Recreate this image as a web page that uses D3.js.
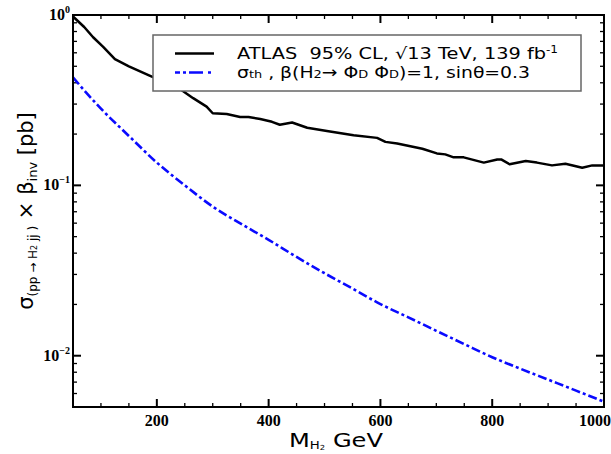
<!DOCTYPE html>
<html>
<head>
<meta charset="utf-8">
<script src="https://cdn.jsdelivr.net/npm/d3@7"></script>
<style>
  body { margin: 0; background: #fff; }
  svg { display: block; }
</style>
</head>
<body>
<svg id="chart"></svg>
<script>
// ATLAS 95% CL limit (black, solid)
const atlasMass = [50, 70, 86, 104, 125, 150, 191, 220, 242, 265, 289, 300, 325, 349, 364, 385, 406, 420, 442, 469, 507, 552, 594, 609, 630, 675, 701, 716, 731, 749, 785, 809, 816, 831, 860, 880, 907, 931, 961, 979, 1000];
const atlasXs   = [0.98, 0.85, 0.74, 0.65, 0.55, 0.50, 0.435, 0.40, 0.367, 0.325, 0.29, 0.265, 0.262, 0.252, 0.252, 0.245, 0.236, 0.227, 0.234, 0.218, 0.208, 0.197, 0.19, 0.18, 0.176, 0.164, 0.154, 0.152, 0.146, 0.146, 0.136, 0.142, 0.142, 0.133, 0.139, 0.136, 0.131, 0.134, 0.127, 0.131, 0.131];

// theory cross section (blue, dash-dot)
const thMass = [50, 100, 150, 200, 250, 300, 350, 400, 450, 500, 550, 600, 650, 700, 750, 800, 850, 900, 950, 1000];
const thXs   = [0.43, 0.282, 0.195, 0.136, 0.1, 0.075, 0.0596, 0.0479, 0.038, 0.0305, 0.0248, 0.0201, 0.0168, 0.014, 0.0117, 0.0098, 0.0084, 0.00724, 0.00624, 0.00537];

const xMajor = [200, 400, 600, 800, 1000];
const yMajor = [1, 0.1, 0.01];
const yExp = ["0", "\u22121", "\u22122"];

const W = 611, H = 454;
const margin = { top: 15, right: 7, bottom: 47, left: 73 };
const width = W - margin.left - margin.right,
      height = H - margin.top - margin.bottom;

const root = d3.select("#chart").attr("width", W).attr("height", H);
const svg = root.append("g").attr("transform", `translate(${margin.left},${margin.top})`);

const x = d3.scaleLinear().domain([50, 1000]).range([0, width]);
const y = d3.scaleLog().domain([0.005, 1]).range([height, 0]);

// minor ticks
const xMinor = d3.range(100, 1000, 50).filter(v => !xMajor.includes(v));
const yMinor = [];
[0.001, 0.01, 0.1].forEach(d => { for (let k = 2; k <= 9; k++) { const v = d * k; if (v >= 0.005 && v < 1) yMinor.push(v); } });

const tickG = svg.append("g").attr("stroke", "#000");
// bottom & top
xMajor.concat(xMinor).forEach(v => {
  const maj = xMajor.includes(v);
  const len = maj ? 8 : 4;
  tickG.append("line").attr("x1", x(v)).attr("x2", x(v)).attr("y1", height).attr("y2", height - len).attr("stroke-width", maj ? 2 : 1.3);
  tickG.append("line").attr("x1", x(v)).attr("x2", x(v)).attr("y1", 0).attr("y2", len).attr("stroke-width", maj ? 2 : 1.3);
});
yMajor.concat(yMinor).forEach(v => {
  const maj = yMajor.includes(v);
  const len = maj ? 8 : 4;
  tickG.append("line").attr("x1", 0).attr("x2", len).attr("y1", y(v)).attr("y2", y(v)).attr("stroke-width", maj ? 2 : 1.3);
  tickG.append("line").attr("x1", width).attr("x2", width - len).attr("y1", y(v)).attr("y2", y(v)).attr("stroke-width", maj ? 2 : 1.3);
});

const serif = "'Liberation Serif', 'DejaVu Serif', serif";

// x tick labels (last one pulled in so it fits)
svg.append("g").selectAll("text").data(xMajor).join("text")
  .attr("x", d => d === 1000 ? width + 7 : x(d)).attr("y", height + 19)
  .attr("text-anchor", d => d === 1000 ? "end" : "middle")
  .attr("font-family", serif)
  .attr("font-weight", "bold").attr("font-size", 16)
  .text(d => d);

// y tick labels
const yl = svg.append("g").selectAll("text").data(yMajor).join("text")
  .attr("x", -3).attr("y", d => y(d) + 5)
  .attr("text-anchor", "end")
  .attr("font-family", serif)
  .attr("font-weight", "bold").attr("font-size", 16);
yl.append("tspan").text("10");
yl.append("tspan").attr("dy", -7).attr("font-size", 10).text((d, i) => yExp[i]);

// curves
const line = d3.line().x(d => x(d[0])).y(d => y(d[1]));
svg.append("path").datum(atlasMass.map((m, i) => [m, atlasXs[i]]))
  .attr("d", line).attr("fill", "none").attr("stroke", "#000").attr("stroke-width", 2.5).attr("stroke-linejoin", "round");
svg.append("path").datum(thMass.map((m, i) => [m, thXs[i]]))
  .attr("d", d3.line().curve(d3.curveMonotoneX).x(d => x(d[0])).y(d => y(d[1])))
  .attr("fill", "none").attr("stroke", "#0a0aff").attr("stroke-width", 2.6).attr("stroke-dasharray", "9,3,3,3");

// frame
svg.append("rect").attr("width", width).attr("height", height)
  .attr("fill", "none").attr("stroke", "#000").attr("stroke-width", 2);

// legend
const leg = root.append("g");
leg.append("rect").attr("x", 153).attr("y", 35).attr("width", 428).attr("height", 56)
  .attr("fill", "#fff").attr("stroke", "#666").attr("stroke-width", 1.5);
leg.append("line").attr("x1", 175).attr("x2", 214).attr("y1", 53.5).attr("y2", 53.5).attr("stroke", "#000").attr("stroke-width", 2.5);
leg.append("line").attr("x1", 175).attr("x2", 214).attr("y1", 72.5).attr("y2", 72.5).attr("stroke", "#0a0aff").attr("stroke-width", 2.6).attr("stroke-dasharray", "5,3,3,3,14");
const lf = "'DejaVu Sans', sans-serif";
const t1 = leg.append("text").attr("x", 237).attr("y", 59).attr("font-family", lf).attr("font-size", 16)
  .attr("xml:space", "preserve").attr("textLength", 321).attr("lengthAdjust", "spacingAndGlyphs");
t1.append("tspan").text("ATLAS  95% CL, \u221A13 TeV, 139 fb");
t1.append("tspan").attr("dy", -6).attr("font-size", 10).text("-1");
const t2 = leg.append("text").attr("x", 237).attr("y", 78).attr("font-family", lf).attr("font-size", 16)
  .attr("xml:space", "preserve").attr("textLength", 293).attr("lengthAdjust", "spacingAndGlyphs");
t2.append("tspan").text("\u03C3");
t2.append("tspan").attr("font-size", 11).text("th");
t2.append("tspan").text(" , \u03B2(H");
t2.append("tspan").attr("font-size", 11).text("2");
t2.append("tspan").text("\u2192 \u03A6");
t2.append("tspan").attr("font-size", 11).text("D");
t2.append("tspan").text(" \u03A6");
t2.append("tspan").attr("font-size", 11).text("D");
t2.append("tspan").text(")=1, sin\u03B8=0.3");

// x axis title
const xt = root.append("text").attr("x", 289).attr("y", 447)
  .attr("font-family", lf).attr("font-size", 20)
  .attr("textLength", 94).attr("lengthAdjust", "spacingAndGlyphs");
xt.append("tspan").text("M");
xt.append("tspan").attr("font-size", 11).attr("dy", 2).text("H");
xt.append("tspan").attr("font-size", 7).attr("dy", 1).text("2");
xt.append("tspan").attr("dy", -3).text(" GeV");

// y axis title
const yt = root.append("text").attr("transform", "translate(33,211) rotate(-90)")
  .attr("text-anchor", "middle").attr("font-family", lf).attr("font-size", 21).attr("xml:space", "preserve");
yt.append("tspan").text("\u03C3");
yt.append("tspan").attr("font-size", 12).attr("dy", 4).text("(pp \u2192 H");
yt.append("tspan").attr("font-size", 8).text("2");
yt.append("tspan").attr("font-size", 12).text(" jj )");
yt.append("tspan").attr("dy", -4).text(" \u00D7 \u03B2");
yt.append("tspan").attr("font-size", 13).attr("dy", 4).text("inv");
yt.append("tspan").attr("dy", -4).text(" [pb]");
</script>
</body>
</html>
